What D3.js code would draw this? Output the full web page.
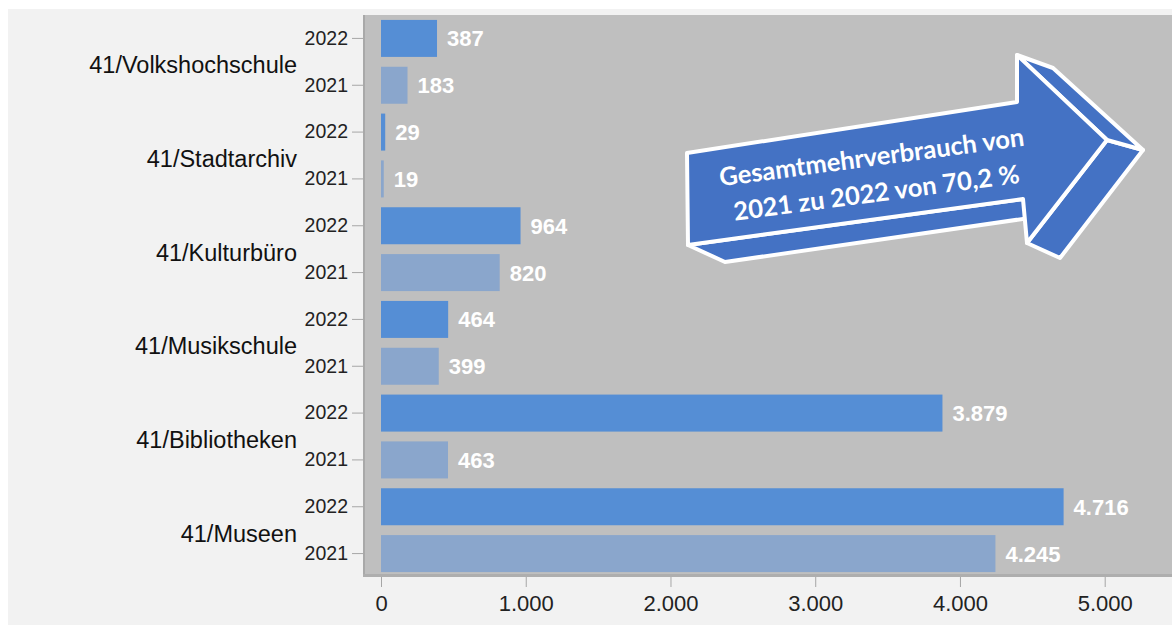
<!DOCTYPE html>
<html>
<head>
<meta charset="utf-8">
<script src="https://cdn.jsdelivr.net/npm/d3@7"></script>
<style>
  html, body { margin: 0; padding: 0; background: #ffffff; }
  svg { display: block; }
</style>
</head>
<body>
<div id="vis"></div>
<script>
// data
let categories = ['41/Volkshochschule', '41/Stadtarchiv', '41/Kulturbüro', '41/Musikschule', '41/Bibliotheken', '41/Museen'];
let years = ['2022', '2021'];
let values2022 = [387, 29, 964, 464, 3879, 4716];
let values2021 = [183, 19, 820, 399, 463, 4245];
let xTicks = [0, 1000, 2000, 3000, 4000, 5000];
let arrowText = ['Gesamtmehrverbrauch von', '2021 zu 2022 von 70,2 %'];

let width = 1172, height = 625;

let rows = [];
categories.forEach((c, i) => {
  rows.push({ cat: c, year: years[0], value: values2022[i], key: c + '|' + years[0] });
  rows.push({ cat: c, year: years[1], value: values2021[i], key: c + '|' + years[1] });
});

let de = d3.formatLocale({ decimal: ',', thousands: '.', grouping: [3], currency: ['', ' €'] });
let fmt = de.format(',d');

let svg = d3.select('#vis')
  .append('svg')
    .attr('width', width)
    .attr('height', height);

// light panel
svg.append('rect')
  .attr('x', 8).attr('y', 9)
  .attr('width', width - 8).attr('height', height - 9)
  .attr('fill', '#f2f2f2');

let plot = { left: 363, top: 15, right: width, bottom: 577 };

let x = d3.scaleLinear().domain([0, 5000]).range([381, 1104.7]);
let y = d3.scaleBand()
  .domain(rows.map(d => d.key))
  .range([plot.top, plot.bottom])
  .paddingInner(0.21)
  .paddingOuter(0.105);

// plot area
svg.append('rect')
  .attr('x', plot.left).attr('y', plot.top)
  .attr('width', plot.right - plot.left).attr('height', plot.bottom - plot.top)
  .attr('fill', '#bfbfbf');
svg.append('line')
  .attr('x1', plot.left + 1).attr('x2', plot.left + 1)
  .attr('y1', plot.top).attr('y2', plot.bottom)
  .attr('stroke', '#a9a9a9').attr('stroke-width', 2);
svg.append('line')
  .attr('x1', plot.left).attr('x2', plot.right)
  .attr('y1', plot.bottom - 1.5).attr('y2', plot.bottom - 1.5)
  .attr('stroke', '#aeaeae').attr('stroke-width', 3);

// bars
svg.selectAll('rect.bar')
  .data(rows)
  .enter().append('rect')
    .attr('class', 'bar')
    .attr('x', x(0))
    .attr('y', d => y(d.key))
    .attr('width', d => x(d.value) - x(0))
    .attr('height', y.bandwidth())
    .attr('fill', d => d.year === '2022' ? '#558ed5' : '#8aa6cc');

// value labels
svg.selectAll('text.val')
  .data(rows)
  .enter().append('text')
    .attr('class', 'val')
    .attr('x', d => x(d.value) + 10)
    .attr('y', d => y(d.key) + y.bandwidth() / 2)
    .attr('dy', '0.36em')
    .attr('fill', '#ffffff')
    .style('font', 'bold 22px "Liberation Sans", Arial, sans-serif')
    .text(d => fmt(d.value));

// y axis (years)
let yAxis = svg.append('g')
  .attr('transform', 'translate(' + plot.left + ',0)')
  .call(d3.axisLeft(y).tickSize(11).tickPadding(4).tickFormat(k => k.split('|')[1]));
yAxis.select('.domain').remove();
yAxis.selectAll('.tick line').attr('stroke', '#a6a6a6');
yAxis.selectAll('.tick text')
  .attr('fill', '#222')
  .style('font', '19.5px "Liberation Sans", Arial, sans-serif');

// category labels
svg.selectAll('text.cat')
  .data(categories)
  .enter().append('text')
    .attr('class', 'cat')
    .attr('x', 297)
    .attr('y', c => (y(c + '|2022') + y(c + '|2021') + y.bandwidth()) / 2 + 3)
    .attr('dy', '0.36em')
    .attr('text-anchor', 'end')
    .attr('fill', '#111')
    .style('font', '23.5px "Liberation Sans", Arial, sans-serif')
    .text(c => c);

// x axis
let xAxis = svg.append('g')
  .attr('transform', 'translate(0,' + plot.bottom + ')')
  .call(d3.axisBottom(x).tickValues(xTicks).tickSize(10).tickPadding(8).tickFormat(fmt));
xAxis.select('.domain').remove();
xAxis.selectAll('.tick line').attr('stroke', '#a6a6a6');
xAxis.selectAll('.tick text')
  .attr('fill', '#222')
  .style('font', '22px "Liberation Sans", Arial, sans-serif');

// 3D arrow annotation
let arrowFill = '#4472c4';
let faces = [
  [[688, 245], [1023, 199], [1057, 214], [725, 262]],              // shaft bottom
  [[1107, 140], [1143, 150], [1060, 258], [1027, 243]],            // head lower slope
  [[1017, 55], [1053, 68], [1143, 150], [1107, 140]],              // head upper slope
  [[687, 153], [1017, 102], [1017, 55], [1107, 140], [1027, 243], [1023, 199], [688, 245]] // front
];
let arrow = svg.append('g');
arrow.selectAll('polygon')
  .data(faces)
  .enter().append('polygon')
    .attr('points', d => d.map(p => p.join(',')).join(' '))
    .attr('fill', arrowFill)
    .attr('stroke', '#ffffff')
    .attr('stroke-width', 4)
    .attr('stroke-linejoin', 'round');

let label = svg.append('g')
  .attr('transform', 'translate(874,175) rotate(-7.6)');
label.selectAll('text')
  .data(arrowText)
  .enter().append('text')
    .attr('x', 0)
    .attr('y', (d, i) => i === 0 ? -18 : 18)
    .attr('dy', '0.35em')
    .attr('text-anchor', 'middle')
    .attr('fill', '#ffffff')
    .style('font', 'bold 25.5px Lato, "Open Sans", sans-serif')
    .text(d => d);
</script>
</body>
</html>
